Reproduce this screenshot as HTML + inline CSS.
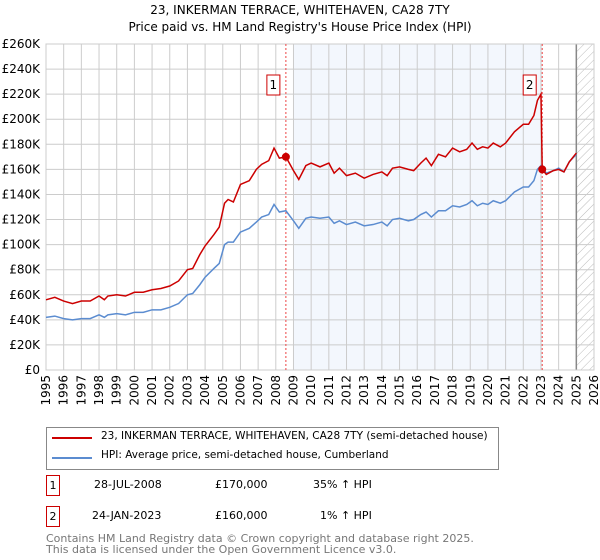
<!DOCTYPE html>
<html><head><meta charset="utf-8"><style>
body{margin:0;background:#fff;font-family:"DejaVu Sans","Liberation Sans",sans-serif;}
#wrap{position:relative;width:600px;height:560px;overflow:hidden}
.t{position:absolute;font-size:11px;color:#000;white-space:nowrap}
.box{position:absolute;width:12px;height:19px;border:1px solid #c00;font-size:11px;text-align:center;line-height:19px}
</style></head><body><div id="wrap">
<div class="t" style="left:0;width:600px;text-align:center;top:3px;font-size:12px">23, INKERMAN TERRACE, WHITEHAVEN, CA28 7TY</div>
<div class="t" style="left:0;width:600px;text-align:center;top:20px;font-size:12px">Price paid vs. HM Land Registry's House Price Index (HPI)</div>
<svg id="chart" width="600" height="420" style="position:absolute;left:0;top:0" font-family="DejaVu Sans, Liberation Sans, sans-serif"></svg>
<div style="position:absolute;left:46px;top:427px;width:451px;height:41px;border:1px solid #888">
<div><div style="position:absolute;left:5px;top:9px;width:40px;height:2px;background:#c00"></div><div class="t" style="left:54px;top:2px;font-size:10.5px">23, INKERMAN TERRACE, WHITEHAVEN, CA28 7TY (semi-detached house)</div></div>
<div><div style="position:absolute;left:5px;top:29px;width:40px;height:2px;background:#5b8cd0"></div><div class="t" style="left:54px;top:21px;font-size:10.5px">HPI: Average price, semi-detached house, Cumberland</div></div>
</div>
<div>
<div class="box" style="left:46px;top:475px">1</div>
<div class="t" style="left:94px;top:478px">28-JUL-2008</div>
<div class="t" style="left:215px;top:478px">£170,000</div>
<div class="t" style="left:313px;top:478px">35% ↑ HPI</div></div>
<div>
<div class="box" style="left:46px;top:506px">2</div>
<div class="t" style="left:92px;top:509px">24-JAN-2023</div>
<div class="t" style="left:215px;top:509px">£160,000</div>
<div class="t" style="left:320px;top:509px">1% ↑ HPI</div></div>
<div class="t" style="left:46px;top:533px;color:#777;line-height:11px">Contains HM Land Registry data © Crown copyright and database right 2025.<br>This data is licensed under the Open Government Licence v3.0.</div>
</div>
<script>
const years=[1995,1995.5,1996,1996.5,1997,1997.5,1998,1998.3,1998.5,1999,1999.5,2000,2000.5,2001,2001.5,2002,2002.5,2003,2003.3,2003.7,2004,2004.5,2004.8,2005.1,2005.3,2005.6,2006,2006.5,2006.9,2007.2,2007.6,2007.9,2008.2,2008.57,2009,2009.3,2009.7,2010,2010.5,2011,2011.3,2011.6,2012,2012.5,2013,2013.5,2014,2014.3,2014.6,2015,2015.5,2015.8,2016.2,2016.5,2016.8,2017.2,2017.6,2018,2018.4,2018.8,2019.1,2019.4,2019.7,2020,2020.3,2020.7,2021,2021.5,2022,2022.3,2022.6,2022.8,2023,2023.07,2023.3,2023.7,2024,2024.3,2024.6,2025];
const hpi=[42,43,41,40,41,41,44,42,44,45,44,46,46,48,48,50,53,60,61,68,74,81,85,100,102,102,110,113,118,122,124,132,126,127,119,113,121,122,121,122,117,119,116,118,115,116,118,115,120,121,119,120,124,126,122,127,127,131,130,132,135,131,133,132,135,133,135,142,146,146,151,160,163,162,157,159,161,158,166,172];
const price=[56,58,55,53,55,55,59,56,59,60,59,62,62,64,65,67,71,80,81,92,99,108,114,133,136,134,148,151,160,164,167,177,169,170,159,152,163,165,162,165,157,161,155,157,153,156,158,155,161,162,160,159,165,169,163,172,170,177,174,176,181,176,178,177,181,178,181,190,196,196,203,215,220,160,156,159,160,158,166,173];
const yTicks=[0,20,40,60,80,100,120,140,160,180,200,220,240,260];
const xTicks=[1995,1996,1997,1998,1999,2000,2001,2002,2003,2004,2005,2006,2007,2008,2009,2010,2011,2012,2013,2014,2015,2016,2017,2018,2019,2020,2021,2022,2023,2024,2025,2026];
const sales=[[2008.57,170,'1'],[2023.07,160,'2']];
const L=46,R=594,T=44,B=370;
const X=v=>L+(v-1995)/31*(R-L), Y=v=>B-v/260*(B-T);
const s=document.getElementById('chart');const NS='http://www.w3.org/2000/svg';
function mk(t,a,p){const e=document.createElementNS(NS,t);for(const k in a)e.setAttribute(k,a[k]);(p||s).appendChild(e);return e;}
let e;
e=mk('rect',{x:X(2009),y:T,width:X(2023.07)-X(2009),height:B-T,fill:'#eef3fc',opacity:0.7});


const d=mk('defs',{});const pt=mk('pattern',{id:'h',width:6,height:6,patternUnits:'userSpaceOnUse',patternTransform:'rotate(45)'},d);mk('line',{x1:0,y1:0,x2:0,y2:6,stroke:'#bbb','stroke-width':1},pt);
e=mk('rect',{x:X(2025),y:T,width:R-X(2025),height:B-T,fill:'url(#h)'});


yTicks.forEach(v=>{mk('line',{x1:L,x2:R,y1:Y(v),y2:Y(v),stroke:'#ccc'});
e=mk('text',{x:L-6,y:Y(v)+4,'text-anchor':'end','font-size':12});e.textContent='£'+v+(v?'K':'');

});
xTicks.forEach(v=>{mk('line',{x1:X(v),x2:X(v),y1:T,y2:B,stroke:'#ccc'});
e=mk('text',{x:0,y:0,'text-anchor':'end','font-size':12,transform:`translate(${X(v)+4},${B+5}) rotate(-90)`});e.textContent=v;

});
mk('line',{x1:X(2025),x2:X(2025),y1:T,y2:B,stroke:'#888','stroke-width':1.5});
mk('rect',{x:L,y:T,width:R-L,height:B-T,fill:'none',stroke:'#ccc'});
sales.forEach(sv=>{e=mk('line',{x1:X(sv[0]),x2:X(sv[0]),y1:T,y2:B,stroke:'#e44','stroke-dasharray':'2,2'});

});
function line(arr,col,name){e=mk('polyline',{points:years.map((y,i)=>X(y)+','+Y(arr[i])).join(' '),fill:'none',stroke:col,'stroke-width':1.5});

}
line(hpi,'#5b8cd0','hpi-line');line(price,'#c00','price-line');
sales.forEach(sv=>{e=mk('circle',{cx:X(sv[0]),cy:Y(sv[1]),r:4,fill:'#c00'});


const g=mk('g',{});mk('rect',{x:X(sv[0])-19,y:75,width:13,height:20,fill:'#fff',stroke:'#c00'},g);
const t=mk('text',{x:X(sv[0])-12.5,y:89,'text-anchor':'middle','font-size':12},g);t.textContent=sv[2];

});
</script></body></html>
